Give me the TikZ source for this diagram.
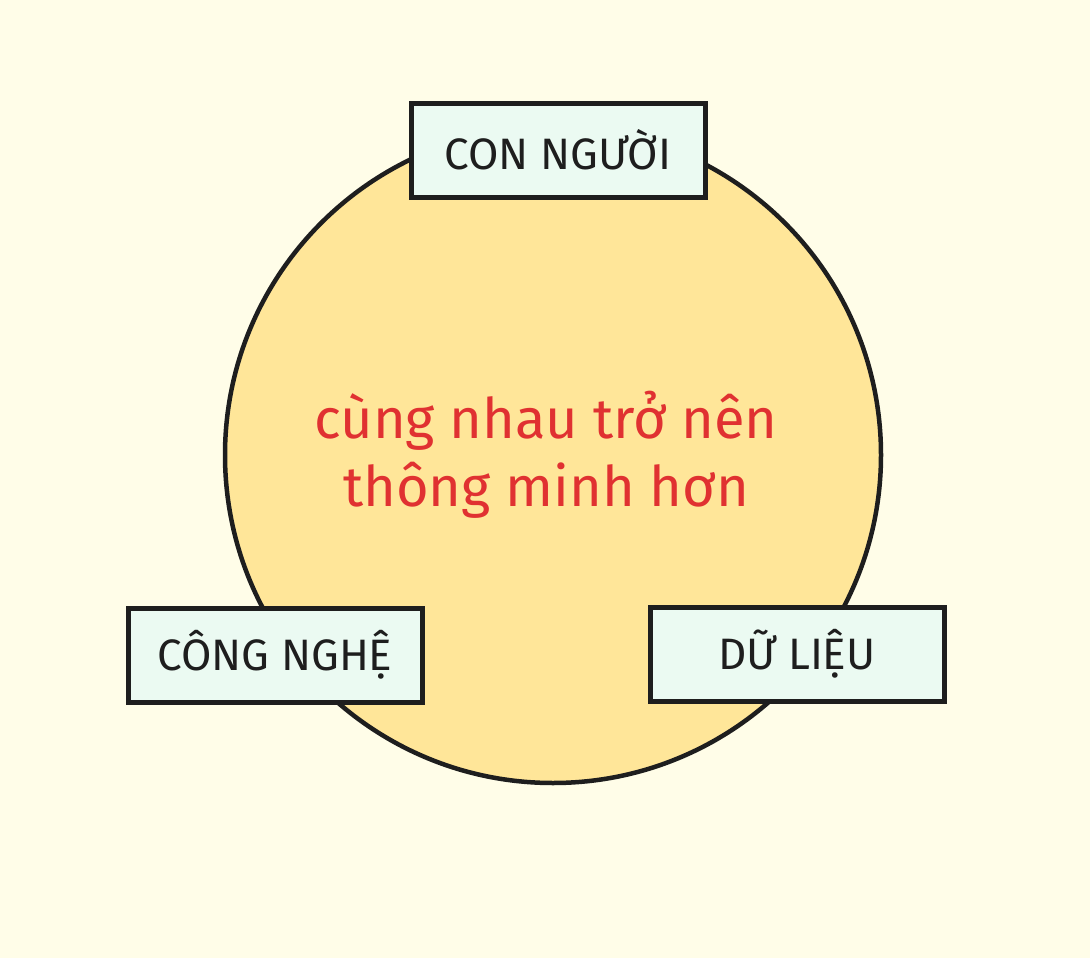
\documentclass[tikz,border=0pt]{standalone}
\usepackage{fontspec}
\setmainfont{Fira Sans}
\usetikzlibrary{positioning}

\definecolor{paper}{HTML}{FFFDE8}
\definecolor{sun}{HTML}{FFE699}
\definecolor{mint}{HTML}{EBFAF2}
\definecolor{ink}{HTML}{1E1E1E}
\definecolor{redtext}{HTML}{E03131}

\begin{document}
\begin{tikzpicture}[
    x=1pt, y=-1pt,
    label box/.style={rectangle, draw=ink, fill=mint, line width=5pt, minimum width=294pt, minimum height=94pt, font=\fontsize{44}{48}\selectfont, text=ink},
    core/.style={circle, draw=ink, fill=sun, line width=4.5pt, minimum size=656pt}
]
\fill [paper] (0,0) rectangle (1090,958);
\useasboundingbox (0,0) rectangle (1090,958);

\node (center) [core] at (553,455) {};
\node (motto) [align=center, text=redtext, font=\fontsize{56}{68}\selectfont] at (546,455) {cùng nhau trở nên\\ thông minh hơn};

\node (people) [label box] at (558,150) {CON NGƯỜI};
\node (tech) [label box] at (275,655) {CÔNG NGHỆ};
\node (data) [label box] at (797,654) {DỮ LIỆU};
\end{tikzpicture}
\end{document}
